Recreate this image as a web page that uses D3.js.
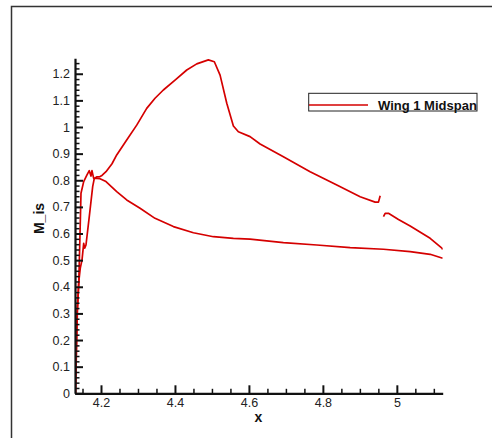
<!DOCTYPE html>
<html>
<head>
<meta charset="utf-8">
<script src="https://cdn.jsdelivr.net/npm/d3@7"></script>
<style>
  html, body { margin: 0; padding: 0; background: #fff; }
  svg { display: block; }
  text { font-family: "Liberation Sans", Arial, Helvetica, sans-serif; }
</style>
</head>
<body>
<svg id="chart" width="492" height="438"></svg>
<script>
// ---- data ----
const seriesName = "Wing 1 Midspan";
// upper (suction) surface, leading part up to the data gap
const suctionX1 = [4.1310, 4.1330, 4.1351, 4.1400, 4.1440, 4.1486, 4.1532, 4.1559, 4.1594, 4.1680, 4.1775, 4.1819, 4.1892, 4.1973, 4.2027, 4.2135, 4.2298, 4.2425, 4.2695, 4.2966, 4.3236, 4.3461, 4.3686, 4.4002, 4.4319, 4.4589, 4.4903, 4.5065, 4.5220, 4.5401, 4.5580, 4.5715, 4.6031, 4.6302, 4.6932, 4.7655, 4.8377, 4.9008, 4.9413, 4.9503, 4.9549];
const suctionM1 = [0.000, 0.150, 0.300, 0.420, 0.470, 0.500, 0.563, 0.545, 0.557, 0.660, 0.776, 0.807, 0.813, 0.814, 0.818, 0.832, 0.862, 0.895, 0.951, 1.007, 1.070, 1.108, 1.139, 1.176, 1.214, 1.237, 1.252, 1.245, 1.195, 1.089, 1.004, 0.982, 0.964, 0.936, 0.888, 0.832, 0.782, 0.738, 0.718, 0.718, 0.742];
// upper surface, trailing part after the gap
const suctionX2 = [4.9638, 4.9684, 4.9773, 5.0044, 5.0360, 5.0901, 5.1218, 5.1240];
const suctionM2 = [0.663, 0.676, 0.676, 0.653, 0.628, 0.582, 0.545, 0.540];
// lower (pressure) surface
const pressureX = [4.1310, 4.1320, 4.1337, 4.1360, 4.1400, 4.1424, 4.1459, 4.1532, 4.1621, 4.1683, 4.1729, 4.1756, 4.1802, 4.1892, 4.1973, 4.2135, 4.2425, 4.2695, 4.3056, 4.3461, 4.3958, 4.4499, 4.5040, 4.5580, 4.6031, 4.6932, 4.7836, 4.8738, 4.9638, 5.0360, 5.0901, 5.1240];
const pressureM = [0.000, 0.060, 0.163, 0.300, 0.420, 0.550, 0.751, 0.795, 0.820, 0.836, 0.816, 0.836, 0.807, 0.807, 0.806, 0.795, 0.757, 0.726, 0.695, 0.657, 0.626, 0.603, 0.588, 0.582, 0.579, 0.566, 0.557, 0.547, 0.541, 0.532, 0.522, 0.507];

const xMajorTicks = [4.2, 4.4, 4.6, 4.8, 5];
const xMinorTicks = [4.15, 4.25, 4.3, 4.35, 4.45, 4.5, 4.55, 4.65, 4.7, 4.75, 4.85, 4.9, 4.95, 5.05, 5.1];
const yMajorTicks = [0, 0.1, 0.2, 0.3, 0.4, 0.5, 0.6, 0.7, 0.8, 0.9, 1, 1.1, 1.2];
const yMinorTicks = d3.range(0, 63).map(i => +(i * 0.02).toFixed(2)).filter(v => !yMajorTicks.some(t => Math.abs(t - v) < 1e-9));
const xDomain = [4.1297, 5.124];
const yDomain = [0, 1.258];

// ---- layout ----
const svg = d3.select("#chart");
const plot = { left: 75, right: 442.7, top: 58.3, bottom: 393.3 };
const x = d3.scaleLinear().domain(xDomain).range([plot.left, plot.right]);
const y = d3.scaleLinear().domain(yDomain).range([plot.bottom, plot.top]);
const red = "#d50000";

// outer frame (top and left edges)
svg.append("path")
  .attr("d", "M11.5,438 L11.5,6.5 L492,6.5")
  .attr("fill", "none").attr("stroke", "#333").attr("stroke-width", 1.5);

// clip
svg.append("defs").append("clipPath").attr("id", "clip")
  .append("rect").attr("x", plot.left).attr("y", plot.top - 5)
  .attr("width", plot.right - plot.left).attr("height", plot.bottom - plot.top + 5);

// lines
const line = d3.line().x(d => x(d[0])).y(d => y(d[1]));
const zip = (a, b) => a.map((v, i) => [v, b[i]]);
const g = svg.append("g").attr("clip-path", "url(#clip)");
[zip(suctionX1, suctionM1), zip(suctionX2, suctionM2), zip(pressureX, pressureM)].forEach(d => {
  g.append("path").datum(d).attr("d", line)
    .attr("fill", "none").attr("stroke", red).attr("stroke-width", 1.7)
    .attr("stroke-linejoin", "round");
});

// axes
function styleAxis(sel, width) {
  sel.selectAll(".domain").attr("stroke", "#111").attr("stroke-width", 2.2);
  sel.selectAll(".tick line").attr("stroke", "#111").attr("stroke-width", width);
  sel.selectAll(".tick text").attr("fill", "#222").style("font-size", "12.5px")
    .style("font-family", '"Liberation Sans", Arial, sans-serif');
}
const yMinor = svg.append("g").attr("transform", `translate(${plot.left},0)`)
  .call(d3.axisLeft(y).tickValues(yMinorTicks).tickSize(-4.5).tickSizeOuter(0).tickFormat(""));
styleAxis(yMinor, 1.5);
yMinor.select(".domain").remove();
const xMinor = svg.append("g").attr("transform", `translate(0,${plot.bottom})`)
  .call(d3.axisBottom(x).tickValues(xMinorTicks).tickSize(-4.5).tickSizeOuter(0).tickFormat(""));
styleAxis(xMinor, 1.5);
xMinor.select(".domain").remove();

const yAxis = svg.append("g").attr("transform", `translate(${plot.left},0)`)
  .call(d3.axisLeft(y).tickValues(yMajorTicks).tickSize(-8).tickSizeOuter(0).tickPadding(5).tickFormat(d => String(d)));
styleAxis(yAxis, 2);
const xAxis = svg.append("g").attr("transform", `translate(0,${plot.bottom})`)
  .call(d3.axisBottom(x).tickValues(xMajorTicks).tickSize(-8).tickSizeOuter(0).tickPadding(5).tickFormat(d => String(d)));
styleAxis(xAxis, 2);

// axis titles
svg.append("text").attr("x", 258.5).attr("y", 421.5).attr("text-anchor", "middle")
  .style("font-size", "14px").style("font-weight", "bold").attr("fill", "#111").text("x");
svg.append("text").attr("transform", "translate(44,218.5) rotate(-90)").attr("text-anchor", "middle")
  .style("font-size", "14px").style("font-weight", "bold").attr("fill", "#111").text("M_is");

// legend
const lg = svg.append("g");
lg.append("rect").attr("x", 308.7).attr("y", 93.3).attr("width", 168.3).attr("height", 17.7)
  .attr("fill", "#fff").attr("stroke", "#222").attr("stroke-width", 1);
lg.append("line").attr("x1", 309).attr("x2", 368).attr("y1", 105).attr("y2", 105)
  .attr("stroke", red).attr("stroke-width", 1.7);
lg.append("text").attr("x", 378).attr("y", 109.5)
  .style("font-size", "13px").style("font-weight", "bold").attr("fill", "#111").text(seriesName);
</script>
</body>
</html>
